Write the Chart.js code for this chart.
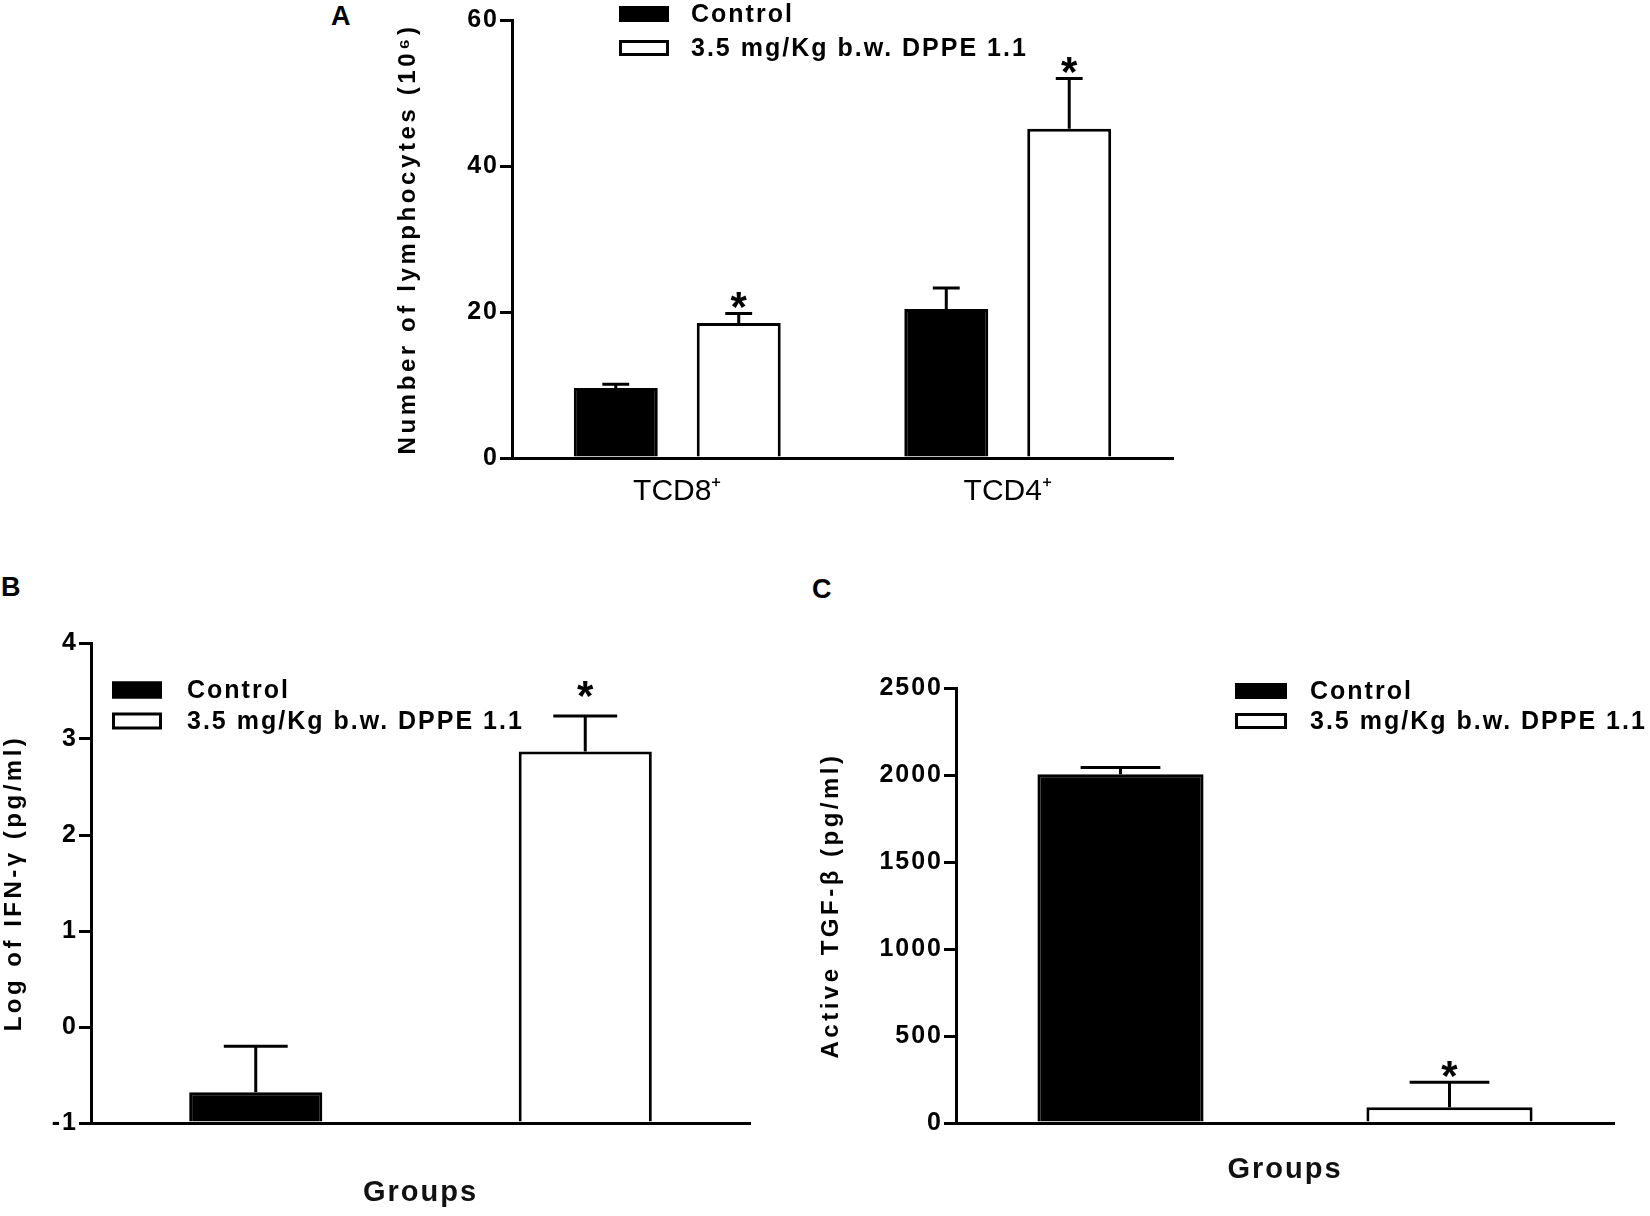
<!DOCTYPE html>
<html>
<head>
<meta charset="utf-8">
<script src="https://cdn.jsdelivr.net/npm/chart.js@4.4.1/dist/chart.umd.min.js"></script>
<style>
  html, body { margin: 0; padding: 0; background: #fff; }
  body { width: 1650px; height: 1216px; position: relative; overflow: hidden; font-family: "Liberation Sans", Arial, sans-serif; }
  .panel { position: absolute; }
  .panel canvas { display: block; }
  .lbl { position: absolute; font-weight: bold; font-size: 27px; line-height: 1; color: #000; }
</style>
</head>
<body>
<div class="lbl" style="left:331px; top:3px;">A</div>
<div class="lbl" style="left:1px; top:574px;">B</div>
<div class="lbl" style="left:812px; top:576px;">C</div>

<div class="panel" style="left:390px; top:0px; width:800px; height:540px;"><canvas id="chartA" width="800" height="540" style="width:800px;height:540px"></canvas></div>
<div class="panel" style="left:0px; top:560px; width:770px; height:656px;"><canvas id="chartB" width="770" height="656" style="width:770px;height:656px"></canvas></div>
<div class="panel" style="left:800px; top:560px; width:850px; height:656px;"><canvas id="chartC" width="850" height="656" style="width:850px;height:656px"></canvas></div>

<script>
// ---------------- data ----------------
const seriesLabels = ['Control', '3.5 mg/Kg b.w. DPPE 1.1'];

// Panel A
const categoriesA = ['TCD8\u207A', 'TCD4\u207A'];
const controlA = [9.6, 20.4];
const controlErrA = [0.5, 2.9];
const dppeA = [18.5, 45.1];
const dppeErrA = [1.3, 6.9];
const sigControlA = [false, false];
const sigDppeA = [true, true];
const ticksA = [0, 20, 40, 60];
const yTitleA = 'Number of lymphocytes (10\u2076)';

// Panel B
const groupsB = ['Control', '3.5 mg/Kg b.w. DPPE 1.1'];
const controlB = [-0.68, null];
const controlErrB = [0.48, 0];
const dppeB = [null, 2.87];
const dppeErrB = [0, 0.37];
const sigControlB = [false, false];
const sigDppeB = [false, true];
const ticksB = [-1, 0, 1, 2, 3, 4];
const yTitleB = 'Log of IFN-\u03B3 (pg/ml)';
const xTitleB = 'Groups';

// Panel C
const groupsC = ['Control', '3.5 mg/Kg b.w. DPPE 1.1'];
const controlC = [2005, null];
const controlErrC = [38, 0];
const dppeC = [null, 90];
const dppeErrC = [0, 144];
const sigControlC = [false, false];
const sigDppeC = [false, true];
const ticksC = [0, 500, 1000, 1500, 2000, 2500];
const yTitleC = 'Active TGF-\u03B2 (pg/ml)';
const xTitleC = 'Groups';

// ---------------- helpers ----------------
const FONT = '"Liberation Sans", Arial, sans-serif';
const NARROW = '"Liberation Sans Narrow", "Liberation Sans", Arial, sans-serif';
Chart.defaults.font.family = FONT;
Chart.defaults.color = '#000';

// run fn with a letter spacing applied to every fillText (font setter resets spacing)
function withSpacing(ctx, sp, fn) {
  const proto = Object.getPrototypeOf(ctx).fillText;
  ctx.fillText = function (t, x, y) {
    this.letterSpacing = sp;
    return proto.call(this, t, x, y);
  };
  try { fn(); } finally { delete ctx.fillText; ctx.letterSpacing = '0px'; }
}

function patchSpacing(scale, titleSp, labelSp) {
  if (scale._spacingPatched) return;
  scale._spacingPatched = true;
  const dt = scale.drawTitle, dl = scale.drawLabels;
  scale.drawTitle = function () {
    withSpacing(this.ctx, titleSp, () => dt.call(this));
  };
  scale.drawLabels = function (area) {
    withSpacing(this.ctx, labelSp, () => dl.call(this, area));
  };
}

const errorBarPlugin = {
  id: 'errorBars',
  afterDatasetsDraw(chart, args, opts) {
    const ctx = chart.ctx, ys = chart.scales.y;
    chart.data.datasets.forEach((ds, di) => {
      const meta = chart.getDatasetMeta(di);
      meta.data.forEach((bar, i) => {
        const v = ds.data[i];
        if (v === null || v === undefined) return;
        const err = ds.errors[i] || 0;
        const yv = ys.getPixelForValue(v);
        const ye = ys.getPixelForValue(v + err);
        const half = bar.width * opts.capRatio / 2;
        ctx.save();
        ctx.strokeStyle = '#000';
        ctx.lineWidth = 3;
        ctx.beginPath();
        ctx.moveTo(bar.x, yv); ctx.lineTo(bar.x, ye);
        ctx.moveTo(bar.x - half, ye); ctx.lineTo(bar.x + half, ye);
        ctx.stroke();
        if (ds.sig && ds.sig[i]) {
          const size = 42;
          ctx.fillStyle = '#000';
          ctx.font = 'bold ' + size + 'px ' + FONT;
          ctx.textAlign = 'center';
          ctx.textBaseline = 'alphabetic';
          ctx.fillText('*', bar.x, ye - opts.starGap + 0.58 * size);
        }
        ctx.restore();
      });
    });
  }
};

const legendPlugin = {
  id: 'boxLegend',
  afterDraw(chart, args, o) {
    const ctx = chart.ctx, ca = chart.chartArea;
    chart.data.datasets.forEach((ds, i) => {
      const x = ca.left + o.dx;
      const yc = ca.top + o.dy + i * o.rowGap;
      ctx.save();
      ctx.fillStyle = ds.backgroundColor;
      ctx.fillRect(x, yc - o.h / 2, o.w, o.h);
      ctx.strokeStyle = '#000';
      ctx.lineWidth = 3;
      ctx.strokeRect(x + 1.5, yc - o.h / 2 + 1.5, o.w - 3, o.h - 3);
      ctx.fillStyle = '#000';
      ctx.font = 'bold 25px ' + FONT;
      ctx.letterSpacing = o.spacing;
      ctx.textAlign = 'left';
      ctx.textBaseline = 'middle';
      ctx.fillText(ds.label, x + o.textDx, yc + 1);
      ctx.restore();
    });
  }
};

function makeChart(id, cfg) {
  const datasets = cfg.series.map((s, i) => {
    const d = {
      label: seriesLabels[i],
      data: s.values,
      errors: s.errors,
      sig: s.sig,
      backgroundColor: i === 0 ? '#000000' : '#ffffff',
      borderColor: '#000000',
      borderWidth: 3,
      categoryPercentage: cfg.cp,
      barPercentage: cfg.bp,
      grouped: cfg.grouped
    };
    if (cfg.base !== undefined) d.base = cfg.base;
    return d;
  });
  return new Chart(document.getElementById(id), {
    type: 'bar',
    data: { labels: cfg.labels, datasets },
    options: {
      responsive: false,
      animation: false,
      devicePixelRatio: 1,
      layout: { padding: cfg.padding },
      plugins: {
        legend: { display: false },
        tooltip: { enabled: false },
        boxLegend: cfg.legend,
        errorBars: cfg.err
      },
      scales: {
        x: {
          afterFit: s => { s.height = cfg.xHeight; patchSpacing(s, '2px', '0px'); },
          grid: { display: false, drawTicks: false },
          border: { display: true, color: '#000', width: 3 },
          ticks: {
            display: cfg.showX,
            color: '#000',
            font: { family: NARROW, size: 30, weight: 'normal' },
            padding: 16,
            maxRotation: 0,
            autoSkip: false
          },
          title: {
            display: !!cfg.xTitle,
            text: cfg.xTitle || '',
            color: '#111',
            font: { family: FONT, size: 29, weight: 'bold' },
            padding: { top: 0, bottom: cfg.xTitlePad || 0 }
          }
        },
        y: {
          min: cfg.min,
          max: cfg.max,
          afterBuildTicks: s => { s.ticks = cfg.ticks.map(v => ({ value: v })); },
          afterFit: s => { s.width = cfg.yWidth; patchSpacing(s, cfg.yTitleSp, '2px'); },
          grid: { display: true, drawOnChartArea: false, drawTicks: true, tickLength: 12, color: '#000', lineWidth: 3 },
          border: { display: true, color: '#000', width: 3 },
          ticks: {
            color: '#000',
            font: { family: FONT, size: 25, weight: 'bold' },
            padding: 1,
            callback: v => String(v)
          },
          title: {
            display: true,
            text: cfg.yTitle,
            color: '#000',
            font: { family: FONT, size: 24, weight: 'bold' },
            padding: { top: cfg.yTitlePad, bottom: 0 }
          }
        }
      }
    },
    plugins: [errorBarPlugin, legendPlugin]
  });
}

// ---------------- charts ----------------
makeChart('chartA', {
  labels: categoriesA,
  series: [
    { values: controlA, errors: controlErrA, sig: sigControlA },
    { values: dppeA, errors: dppeErrA, sig: sigDppeA }
  ],
  cp: 0.744, bp: 0.683, grouped: true,
  min: 0, max: 60, ticks: ticksA,
  yTitle: yTitleA, yTitlePad: 4, yWidth: 122, yTitleSp: '3.6px',
  xHeight: 82, showX: true,
  padding: { left: 0, right: 17, top: 20, bottom: 0 },
  legend: { dx: 107, dy: -6, rowGap: 34, w: 50, h: 16, textDx: 72, spacing: '2px' },
  err: { capRatio: 0.32, starGap: 17 }
});

makeChart('chartB', {
  labels: groupsB,
  series: [
    { values: controlB, errors: controlErrB, sig: sigControlB },
    { values: dppeB, errors: dppeErrB, sig: sigDppeB }
  ],
  cp: 1, bp: 0.404, grouped: false, base: -1,
  min: -1, max: 4, ticks: ticksB,
  yTitle: yTitleB, yTitlePad: 0, yWidth: 91, yTitleSp: '3.5px',
  xHeight: 93, showX: false, xTitle: xTitleB, xTitlePad: 6,
  padding: { left: 0, right: 20, top: 83, bottom: 0 },
  legend: { dx: 21, dy: 47, rowGap: 31, w: 50, h: 17, textDx: 75, spacing: '2px' },
  err: { capRatio: 0.48, starGap: 30 }
});

makeChart('chartC', {
  labels: groupsC,
  series: [
    { values: controlC, errors: controlErrC, sig: sigControlC },
    { values: dppeC, errors: dppeErrC, sig: sigDppeC }
  ],
  cp: 1, bp: 0.505, grouped: false,
  min: 0, max: 2500, ticks: ticksC,
  yTitle: yTitleC, yTitlePad: 17, yWidth: 156, yTitleSp: '3.5px',
  xHeight: 93, showX: false, xTitle: xTitleC, xTitlePad: 29,
  padding: { left: 0, right: 36, top: 128, bottom: 0 },
  legend: { dx: 279, dy: 3, rowGap: 30, w: 52, h: 16, textDx: 75, spacing: '2px' },
  err: { capRatio: 0.48, starGap: 17 }
});
</script>
</body>
</html>
